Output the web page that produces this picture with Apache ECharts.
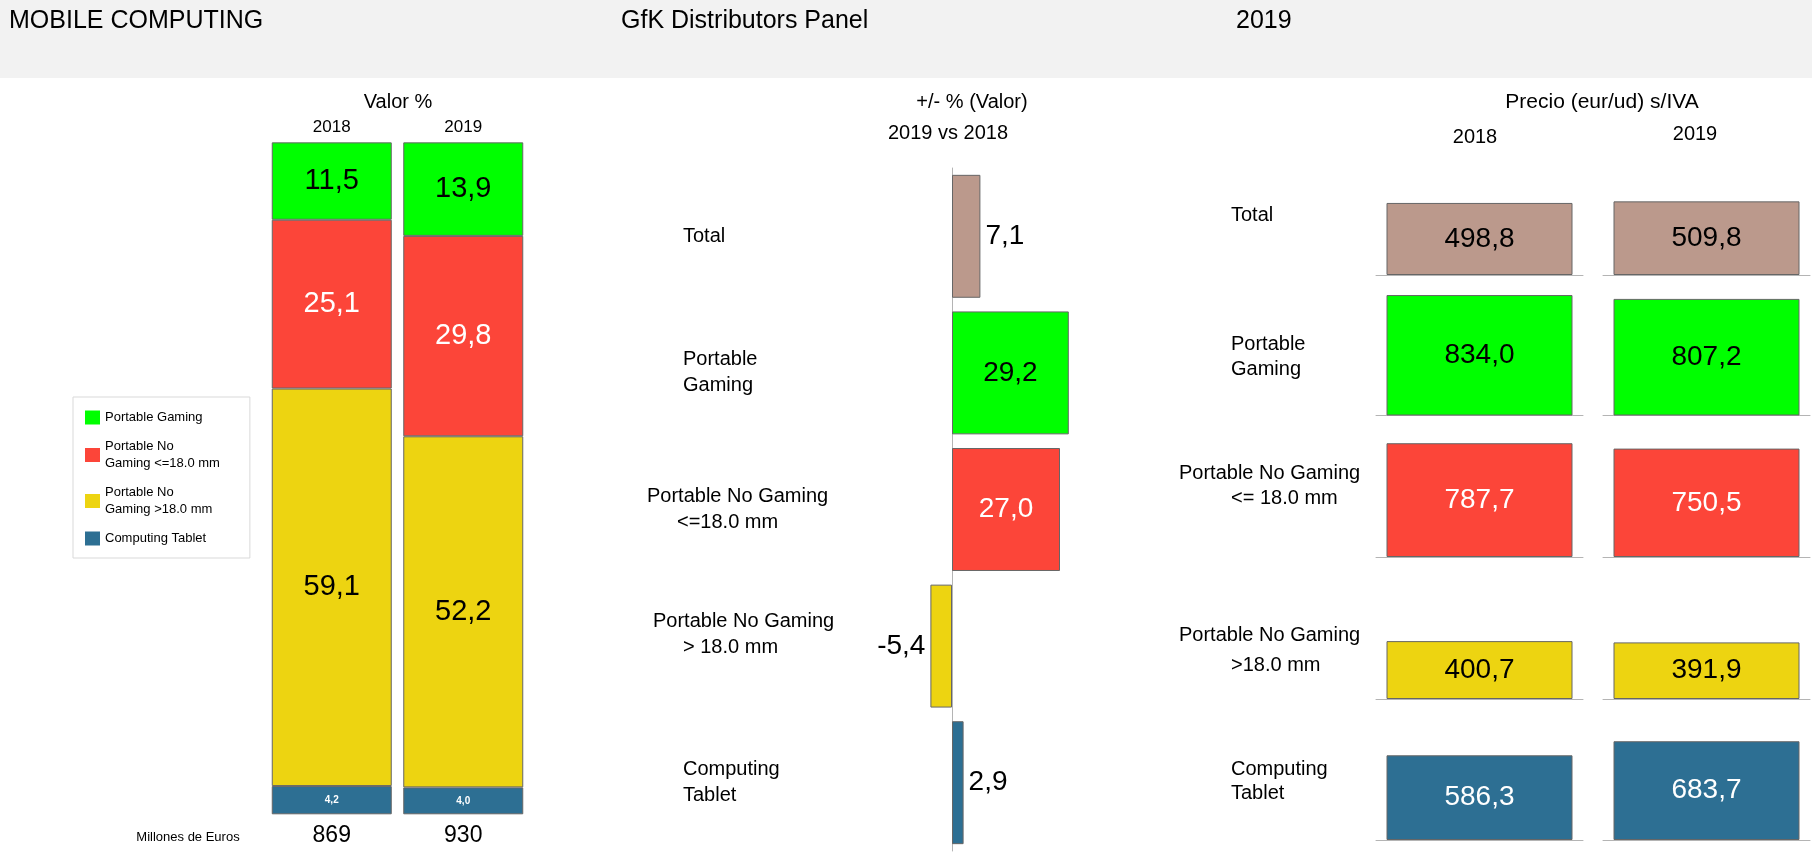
<!DOCTYPE html>
<html><head><meta charset="utf-8">
<script src="https://cdn.jsdelivr.net/npm/echarts@6/dist/echarts.min.js"></script>
<style>html,body{margin:0;padding:0;background:#fff}#c{width:1812px;height:853px}</style>
</head><body><div id="c"></div>
<script>
// ---------- DATA ----------
const years = ['2018', '2019'];
const segments = ['Portable Gaming', 'Portable No Gaming <=18.0 mm', 'Portable No Gaming >18.0 mm', 'Computing Tablet'];
const legendLabels = ['Portable Gaming', 'Portable No\nGaming <=18.0 mm', 'Portable No\nGaming >18.0 mm', 'Computing Tablet'];
const shareGaming = [11.5, 13.9];
const shareNoGamingThin = [25.1, 29.8];
const shareNoGamingThick = [59.1, 52.2];
const shareTablet = [4.2, 4.0];
const totalsMEur = ['869', '930'];

const changeCategories = ['Total', 'Portable\nGaming', 'Portable No Gaming\n<=18.0 mm', 'Portable No Gaming\n> 18.0 mm', 'Computing\nTablet'];
const changeValues = [7.1, 29.2, 27.0, -5.4, 2.9];

const priceRowLabels = [['Total'], ['Portable', 'Gaming'], ['Portable No Gaming', '<= 18.0 mm'], ['Portable No Gaming', '>18.0 mm'], ['Computing', 'Tablet']];
const price2018 = [498.8, 834.0, 787.7, 400.7, 586.3];
const price2019 = [509.8, 807.2, 750.5, 391.9, 683.7];

const headerTexts = ['MOBILE COMPUTING', 'GfK Distributors Panel', '2019'];

// ---------- STYLE / LAYOUT ----------
const FONT = '"Liberation Sans", Arial, sans-serif';
const COL = { total: '#bb998c', green: '#00ff00', red: '#fc4539', yellow: '#edd411', blue: '#2d6f93' };
const rowColors = [COL.total, COL.green, COL.red, COL.yellow, COL.blue];
const rowTextColors = ['#000', '#000', '#fff', '#000', '#fff'];
const fmt = v => v.toFixed(1).replace('.', ',');
const BORDER = '#666';

const graphic = [];
graphic.push({ type: 'rect', shape: { x: 0, y: 0, width: 1812, height: 78 }, style: { fill: '#f2f2f2' }, silent: true });
function txt(text, x, y, size, align, color) {
  graphic.push({ type: 'text', x: x, y: y, silent: true,
    style: { text: text, fill: color || '#000', font: size + 'px ' + FONT, textAlign: align || 'left', textVerticalAlign: 'middle' } });
}
const headerX = [9, 621, 1236];
headerTexts.forEach((t, i) => txt(t, headerX[i], 21, 25, 'left'));
txt('Valor %', 398, 102, 20, 'center');
txt('Millones de Euros', 188, 837, 13, 'center');
txt('+/- % (Valor)', 972, 102, 20, 'center');
txt('2019 vs 2018', 948, 133, 20, 'center');
txt('Precio (eur/ud) s/IVA', 1602, 102, 21, 'center');
txt(years[0], 1475, 137, 20, 'center');
txt(years[1], 1695, 134, 20, 'center');
const rowLabelPos = [
  [[1231, 215]],
  [[1231, 344], [1231, 369]],
  [[1179, 473], [1231, 498]],
  [[1179, 635], [1231, 665]],
  [[1231, 769], [1231, 793]]
];
priceRowLabels.forEach((lines, r) => lines.forEach((l, j) => txt(l, rowLabelPos[r][j][0], rowLabelPos[r][j][1], 20, 'left')));

const grid = [], xAxis = [], yAxis = [], series = [];

// ---------- LEFT: stacked shares ----------
grid.push({ left: 266, width: 263, top: 141.7, height: 672.6 });
xAxis.push({ type: 'category', gridIndex: 0, position: 'top', data: years,
  axisLine: { show: false }, axisTick: { show: false },
  axisLabel: { fontSize: 17, color: '#000', margin: 6, fontFamily: FONT } });
xAxis.push({ type: 'category', gridIndex: 0, position: 'bottom', data: totalsMEur,
  axisLine: { show: false }, axisTick: { show: false },
  axisLabel: { fontSize: 23, color: '#000', margin: 10, fontFamily: FONT } });
yAxis.push({ type: 'value', gridIndex: 0, min: 0, max: 100, show: false });
const stackDefs = [
  { name: segments[3], data: shareTablet, color: COL.blue, lc: '#fff', fs: 10, fw: 'bold' },
  { name: segments[2], data: shareNoGamingThick, color: COL.yellow, lc: '#000', fs: 29, fw: 'normal' },
  { name: segments[1], data: shareNoGamingThin, color: COL.red, lc: '#fff', fs: 29, fw: 'normal' },
  { name: segments[0], data: shareGaming, color: COL.green, lc: '#000', fs: 29, fw: 'normal' }
];
stackDefs.forEach(d => series.push({
  type: 'bar', name: d.name, stack: 'share', xAxisIndex: 0, yAxisIndex: 0, barWidth: 120,
  data: d.data, itemStyle: { color: d.color, borderColor: BORDER, borderWidth: 1 },
  label: { show: true, position: 'inside', color: d.lc, fontSize: d.fs, fontWeight: d.fw, fontFamily: FONT,
    formatter: p => fmt(p.value) },
  emphasis: { disabled: true }
}));

// ---------- MIDDLE: % change ----------
grid.push({ left: 912, width: 160, top: 168, height: 683 });
xAxis.push({ type: 'value', gridIndex: 1, min: -10, max: 30, show: false });
const padKeys = [['p36'], ['p36', 'p36'], ['p0', 'p30'], ['p6', 'p36'], ['p36', 'p36']];
const extraLine = [false, false, false, true, false];
const rs = pl => ({ padding: [0, 0, 0, pl], fontSize: 20, color: '#000', lineHeight: 26, fontFamily: FONT });
yAxis.push({ type: 'category', gridIndex: 1, inverse: true, data: changeCategories,
  axisLine: { show: true, onZero: true, lineStyle: { color: '#b4b4b4', width: 1 } },
  axisTick: { show: false },
  axisLabel: { align: 'left', margin: 265, fontFamily: FONT,
    formatter: (val, idx) => val.split('\n').map((l, j) => '{' + padKeys[idx][j] + '|' + l + '}').join('\n') + (extraLine[idx] ? '\n{e| }' : ''),
    rich: { p0: rs(0), p6: rs(6), p30: rs(30), p36: rs(36), e: { fontSize: 10, lineHeight: 24 } } } });
series.push({
  type: 'bar', name: 'Var', xAxisIndex: 2, yAxisIndex: 1, barCategoryGap: '10%',
  data: changeValues.map((v, i) => {
    const inside = Math.abs(v) > 15;
    return { value: v, itemStyle: { color: rowColors[i] },
      label: { position: inside ? 'inside' : (v < 0 ? 'left' : 'right'), color: inside ? rowTextColors[i] : '#000' } };
  }),
  itemStyle: { borderColor: BORDER, borderWidth: 1 },
  label: { show: true, fontSize: 28, fontFamily: FONT, formatter: p => fmt(p.value) },
  emphasis: { disabled: true }
});

// ---------- RIGHT: prices ----------
const baselines = [275, 415.5, 557, 699, 840];
const colLeft = [1376, 1603];
const prices = [price2018, price2019];
for (let r = 0; r < 5; r++) {
  for (let y = 0; y < 2; y++) {
    const gi = grid.length;
    grid.push({ left: colLeft[y], width: 207, top: baselines[r] - 130, height: 130 });
    const xi = xAxis.length, yi = yAxis.length;
    xAxis.push({ type: 'category', gridIndex: gi, data: [years[y]],
      axisLine: { show: true, lineStyle: { color: '#b4b4b4', width: 1 } }, axisTick: { show: false }, axisLabel: { show: false } });
    yAxis.push({ type: 'value', gridIndex: gi, min: 0, max: 900, show: false });
    series.push({
      type: 'bar', name: 'price' + r + '_' + y, xAxisIndex: xi, yAxisIndex: yi, barWidth: 186,
      data: [prices[y][r]],
      itemStyle: { color: rowColors[r], borderColor: BORDER, borderWidth: 1 },
      label: { show: true, position: 'inside', color: rowTextColors[r], fontSize: 28, fontFamily: FONT,
        formatter: p => fmt(p.value) },
      emphasis: { disabled: true }
    });
  }
}

const option = {
  animation: false,
  backgroundColor: '#fff',
  textStyle: { fontFamily: FONT },
  graphic: graphic,
  legend: {
    data: segments, orient: 'vertical', left: 73, top: 397,
    borderColor: '#d9d9d9', borderWidth: 1, padding: [12, 30, 11, 12],
    itemWidth: 15, itemHeight: 14, itemGap: 12, icon: 'rect', selectedMode: false,
    itemStyle: { borderWidth: 0 },
    textStyle: { fontSize: 13, lineHeight: 17, color: '#000', fontFamily: FONT },
    formatter: name => legendLabels[segments.indexOf(name)]
  },
  grid: grid, xAxis: xAxis, yAxis: yAxis, series: series
};
const chart = echarts.init(document.getElementById('c'));
chart.setOption(option);
</script></body></html>
